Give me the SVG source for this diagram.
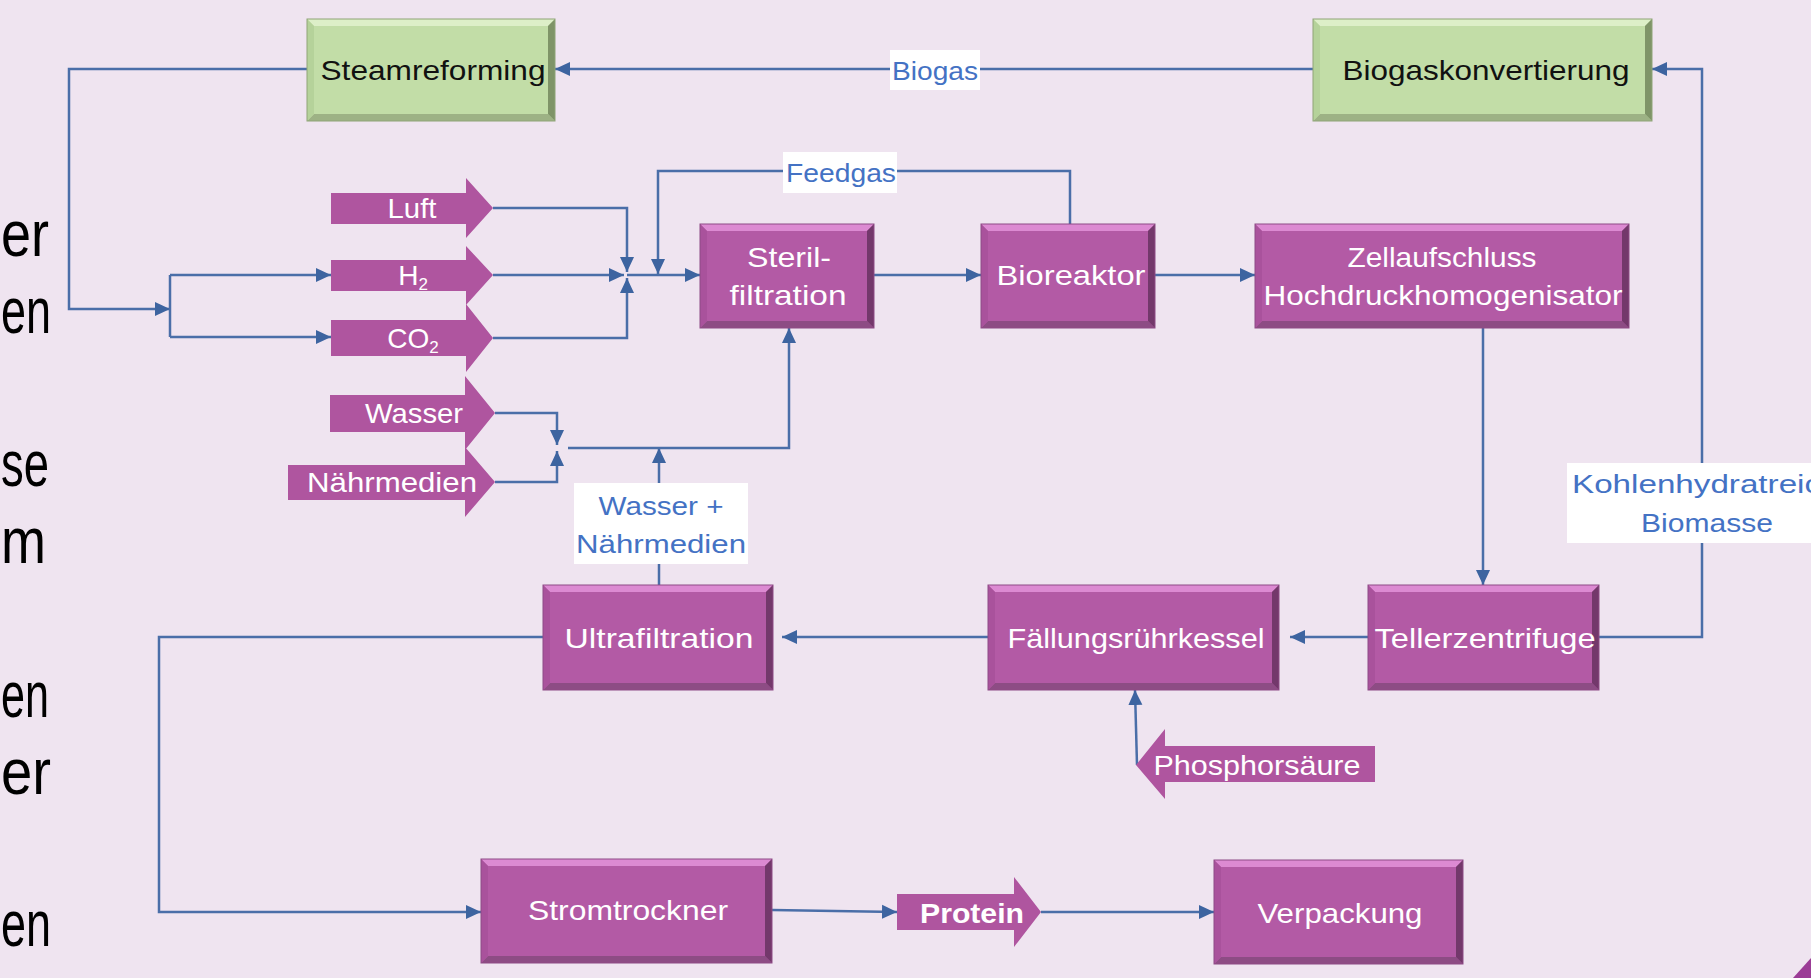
<svg xmlns="http://www.w3.org/2000/svg" width="1811" height="978" viewBox="0 0 1811 978">
<style>
.bg{fill:#EFE4F0}
.conn{fill:none;stroke:#4A6EA8;stroke-width:2.5}
.pm{fill:#B35AA5}.pt{fill:#DC8AD2}.pl{fill:#A9529C}.pr{fill:#73386B}.pb{fill:#8D4C84}.po{fill:none;stroke:#8E4A85;stroke-width:1}
.gm{fill:#C2DDA7}.gt{fill:#DDEFC8}.gl{fill:#B5D29A}.gr{fill:#7F9468}.gb{fill:#9DB285}.go{fill:none;stroke:#8FA477;stroke-width:1}
.blk{fill:#AF559F}
.wt{font-family:"Liberation Sans",Arial,sans-serif;font-size:28px;fill:#FFFFFF;text-anchor:middle}
.bt{font-family:"Liberation Sans",Arial,sans-serif;font-size:28px;fill:#111111;text-anchor:middle}
.lt{font-family:"Liberation Sans",Arial,sans-serif;font-size:26px;fill:#4472C4;text-anchor:middle}
.lbox{fill:#FFFFFF}
.side{font-family:"Liberation Sans",Arial,sans-serif;font-size:64px;fill:#000000}
</style>
<defs>
<marker id="ah" markerUnits="userSpaceOnUse" markerWidth="16" markerHeight="16" refX="15" refY="8" orient="auto">
<path d="M0,1 L15,8 L0,15 Z" fill="#3D64A0"/>
</marker>
</defs>
<rect class="bg" x="0" y="0" width="1811" height="978"/>

<g id="side-text">
<text class="side" x="1" y="256" textLength="48" lengthAdjust="spacingAndGlyphs">er</text>
<text class="side" x="1" y="333" textLength="50" lengthAdjust="spacingAndGlyphs">en</text>
<text class="side" x="1" y="486" textLength="48" lengthAdjust="spacingAndGlyphs">se</text>
<text class="side" x="1" y="563" textLength="45" lengthAdjust="spacingAndGlyphs">m</text>
<text class="side" x="1" y="717" textLength="48" lengthAdjust="spacingAndGlyphs">en</text>
<text class="side" x="1" y="794" textLength="50" lengthAdjust="spacingAndGlyphs">er</text>
<text class="side" x="1" y="946" textLength="50" lengthAdjust="spacingAndGlyphs">en</text>
</g>
<polygon points="1811,958 1811,978 1793,978" fill="#9B3C96"/>

<g id="connectors">
<path class="conn" d="M1313,69 L555,69" marker-end="url(#ah)"/>
<path class="conn" d="M307,69 L69,69 L69,309 L170,309" marker-end="url(#ah)"/>
<path class="conn" d="M170,275 L170,337"/>
<path class="conn" d="M170,275 L331,275" marker-end="url(#ah)"/>
<path class="conn" d="M170,337 L331,337" marker-end="url(#ah)"/>
<path class="conn" d="M493,208 L627,208 L627,272" marker-end="url(#ah)"/>
<path class="conn" d="M493,275 L624,275" marker-end="url(#ah)"/>
<path class="conn" d="M493,338 L627,338 L627,278" marker-end="url(#ah)"/>
<path class="conn" d="M627,275 L700,275" marker-end="url(#ah)"/>
<path class="conn" d="M1070,224 L1070,171 L658,171 L658,274" marker-end="url(#ah)"/>
<path class="conn" d="M874,275 L981,275" marker-end="url(#ah)"/>
<path class="conn" d="M1155,275 L1255,275" marker-end="url(#ah)"/>
<path class="conn" d="M1483,328 L1483,585" marker-end="url(#ah)"/>
<path class="conn" d="M1599,637 L1702,637 L1702,69 L1652,69" marker-end="url(#ah)"/>
<path class="conn" d="M1368,637 L1290,637" marker-end="url(#ah)"/>
<path class="conn" d="M988,637 L782,637" marker-end="url(#ah)"/>
<path class="conn" d="M659,585 L659,448" marker-end="url(#ah)"/>
<path class="conn" d="M495,413 L557,413 L557,445" marker-end="url(#ah)"/>
<path class="conn" d="M495,482 L557,482 L557,451" marker-end="url(#ah)"/>
<path class="conn" d="M568,448 L789,448 L789,328" marker-end="url(#ah)"/>
<path class="conn" d="M543,637 L159,637 L159,912 L481,912" marker-end="url(#ah)"/>
<path class="conn" d="M772,910 L897,912" marker-end="url(#ah)"/>
<path class="conn" d="M1041,912 L1214,912" marker-end="url(#ah)"/>
<path class="conn" d="M1137,765 L1135,690" marker-end="url(#ah)"/>
</g>

<g id="label-biogas">
<rect class="lbox" x="890" y="50" width="90" height="40"/>
<text class="lt" x="935" y="80" textLength="86" lengthAdjust="spacingAndGlyphs">Biogas</text>
</g>
<g id="label-feedgas">
<rect class="lbox" x="783" y="152" width="114" height="41"/>
<text class="lt" x="841" y="182" textLength="110" lengthAdjust="spacingAndGlyphs">Feedgas</text>
</g>
<g id="label-wasser-naehr">
<rect class="lbox" x="574" y="483" width="174" height="81"/>
<text class="lt" x="661" y="515" textLength="125" lengthAdjust="spacingAndGlyphs">Wasser +</text>
<text class="lt" x="661" y="553" textLength="170" lengthAdjust="spacingAndGlyphs">Nährmedien</text>
</g>
<g id="label-kohlenhydrat">
<rect class="lbox" x="1567" y="463" width="244" height="80"/>
<text class="lt" x="1572" y="493" style="text-anchor:start" textLength="286" lengthAdjust="spacingAndGlyphs">Kohlenhydratreiche</text>
<text class="lt" x="1707" y="532" textLength="132" lengthAdjust="spacingAndGlyphs">Biomasse</text>
</g>

<g id="node-steamreforming">
<rect class="gm" x="307" y="19" width="248" height="102"/>
<polygon class="gt" points="307,19 555,19 548,26 314,26"/>
<polygon class="gb" points="307,121 555,121 548,114 314,114"/>
<polygon class="gl" points="307,19 314,26 314,114 307,121"/>
<polygon class="gr" points="555,19 548,26 548,114 555,121"/>
<rect class="go" x="307" y="19" width="248" height="102"/>
<text class="bt" x="433" y="80" textLength="225" lengthAdjust="spacingAndGlyphs">Steamreforming</text>
</g>

<g id="node-biogaskonvertierung">
<rect class="gm" x="1313" y="19" width="339" height="102"/>
<polygon class="gt" points="1313,19 1652,19 1645,26 1320,26"/>
<polygon class="gb" points="1313,121 1652,121 1645,114 1320,114"/>
<polygon class="gl" points="1313,19 1320,26 1320,114 1313,121"/>
<polygon class="gr" points="1652,19 1645,26 1645,114 1652,121"/>
<rect class="go" x="1313" y="19" width="339" height="102"/>
<text class="bt" x="1486" y="80" textLength="287" lengthAdjust="spacingAndGlyphs">Biogaskonvertierung</text>
</g>

<g id="node-luft">
<polygon class="blk" points="331,193 466,193 466,178 493,208 466,238 466,224 331,224"/>
<text class="wt" x="412" y="218" textLength="49" lengthAdjust="spacingAndGlyphs">Luft</text>
</g>
<g id="node-h2">
<polygon class="blk" points="331,260 466,260 466,246 493,275 466,305 466,291 331,291"/>
<text class="wt" x="413" y="285">H<tspan font-size="17" dy="5">2</tspan></text>
</g>
<g id="node-co2">
<polygon class="blk" points="331,320 466,320 466,304 493,338 466,372 466,356 331,356"/>
<text class="wt" x="413" y="348">CO<tspan font-size="17" dy="5">2</tspan></text>
</g>
<g id="node-wasser">
<polygon class="blk" points="330,395 465,395 465,376 495,413 465,450 465,432 330,432"/>
<text class="wt" x="414" y="423" textLength="98" lengthAdjust="spacingAndGlyphs">Wasser</text>
</g>
<g id="node-naehrmedien">
<polygon class="blk" points="288,465 465,465 465,447 495,482 465,517 465,500 288,500"/>
<text class="wt" x="392" y="492" textLength="170" lengthAdjust="spacingAndGlyphs">Nährmedien</text>
</g>

<g id="node-sterilfiltration">
<rect class="pm" x="700" y="224" width="174" height="104"/>
<polygon class="pt" points="700,224 874,224 867,231 707,231"/>
<polygon class="pb" points="700,328 874,328 867,321 707,321"/>
<polygon class="pl" points="700,224 707,231 707,321 700,328"/>
<polygon class="pr" points="874,224 867,231 867,321 874,328"/>
<rect class="po" x="700" y="224" width="174" height="104"/>
<text class="wt" x="789" y="267" textLength="84" lengthAdjust="spacingAndGlyphs">Steril-</text>
<text class="wt" x="788" y="305" textLength="117" lengthAdjust="spacingAndGlyphs">filtration</text>
</g>

<g id="node-bioreaktor">
<rect class="pm" x="981" y="224" width="174" height="104"/>
<polygon class="pt" points="981,224 1155,224 1148,231 988,231"/>
<polygon class="pb" points="981,328 1155,328 1148,321 988,321"/>
<polygon class="pl" points="981,224 988,231 988,321 981,328"/>
<polygon class="pr" points="1155,224 1148,231 1148,321 1155,328"/>
<rect class="po" x="981" y="224" width="174" height="104"/>
<text class="wt" x="1071" y="285" textLength="149" lengthAdjust="spacingAndGlyphs">Bioreaktor</text>
</g>

<g id="node-zellaufschluss">
<rect class="pm" x="1255" y="224" width="374" height="104"/>
<polygon class="pt" points="1255,224 1629,224 1622,231 1262,231"/>
<polygon class="pb" points="1255,328 1629,328 1622,321 1262,321"/>
<polygon class="pl" points="1255,224 1262,231 1262,321 1255,328"/>
<polygon class="pr" points="1629,224 1622,231 1622,321 1629,328"/>
<rect class="po" x="1255" y="224" width="374" height="104"/>
<text class="wt" x="1442" y="267" textLength="189" lengthAdjust="spacingAndGlyphs">Zellaufschluss</text>
<text class="wt" x="1443" y="305" textLength="359" lengthAdjust="spacingAndGlyphs">Hochdruckhomogenisator</text>
</g>

<g id="node-tellerzentrifuge">
<rect class="pm" x="1368" y="585" width="231" height="105"/>
<polygon class="pt" points="1368,585 1599,585 1592,592 1375,592"/>
<polygon class="pb" points="1368,690 1599,690 1592,683 1375,683"/>
<polygon class="pl" points="1368,585 1375,592 1375,683 1368,690"/>
<polygon class="pr" points="1599,585 1592,592 1592,683 1599,690"/>
<rect class="po" x="1368" y="585" width="231" height="105"/>
<text class="wt" x="1485" y="648" textLength="221" lengthAdjust="spacingAndGlyphs">Tellerzentrifuge</text>
</g>

<g id="node-faellungsruehrkessel">
<rect class="pm" x="988" y="585" width="291" height="105"/>
<polygon class="pt" points="988,585 1279,585 1272,592 995,592"/>
<polygon class="pb" points="988,690 1279,690 1272,683 995,683"/>
<polygon class="pl" points="988,585 995,592 995,683 988,690"/>
<polygon class="pr" points="1279,585 1272,592 1272,683 1279,690"/>
<rect class="po" x="988" y="585" width="291" height="105"/>
<text class="wt" x="1136" y="648" textLength="257" lengthAdjust="spacingAndGlyphs">Fällungsrührkessel</text>
</g>

<g id="node-ultrafiltration">
<rect class="pm" x="543" y="585" width="230" height="105"/>
<polygon class="pt" points="543,585 773,585 766,592 550,592"/>
<polygon class="pb" points="543,690 773,690 766,683 550,683"/>
<polygon class="pl" points="543,585 550,592 550,683 543,690"/>
<polygon class="pr" points="773,585 766,592 766,683 773,690"/>
<rect class="po" x="543" y="585" width="230" height="105"/>
<text class="wt" x="659" y="648" textLength="189" lengthAdjust="spacingAndGlyphs">Ultrafiltration</text>
</g>

<g id="node-phosphorsaeure">
<polygon class="blk" points="1136,765 1165,729 1165,746 1375,746 1375,782 1165,782 1165,799"/>
<text class="wt" x="1257" y="775" textLength="207" lengthAdjust="spacingAndGlyphs">Phosphorsäure</text>
</g>

<g id="node-stromtrockner">
<rect class="pm" x="481" y="859" width="291" height="104"/>
<polygon class="pt" points="481,859 772,859 765,866 488,866"/>
<polygon class="pb" points="481,963 772,963 765,956 488,956"/>
<polygon class="pl" points="481,859 488,866 488,956 481,963"/>
<polygon class="pr" points="772,859 765,866 765,956 772,963"/>
<rect class="po" x="481" y="859" width="291" height="104"/>
<text class="wt" x="628" y="920" textLength="200" lengthAdjust="spacingAndGlyphs">Stromtrockner</text>
</g>

<g id="node-protein">
<polygon class="blk" points="897,894 1014,894 1014,877 1041,912 1014,947 1014,930 897,930"/>
<text class="wt" x="972" y="923" font-weight="bold" textLength="104" lengthAdjust="spacingAndGlyphs">Protein</text>
</g>

<g id="node-verpackung">
<rect class="pm" x="1214" y="860" width="249" height="104"/>
<polygon class="pt" points="1214,860 1463,860 1456,867 1221,867"/>
<polygon class="pb" points="1214,964 1463,964 1456,957 1221,957"/>
<polygon class="pl" points="1214,860 1221,867 1221,957 1214,964"/>
<polygon class="pr" points="1463,860 1456,867 1456,957 1463,964"/>
<rect class="po" x="1214" y="860" width="249" height="104"/>
<text class="wt" x="1340" y="923" textLength="165" lengthAdjust="spacingAndGlyphs">Verpackung</text>
</g>
</svg>
